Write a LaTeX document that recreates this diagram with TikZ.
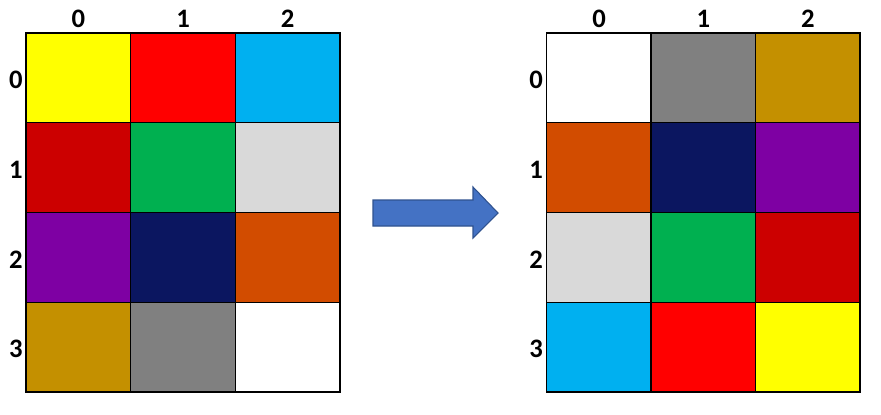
\documentclass[tikz,border=0pt]{standalone}
\usepackage{fontspec}
\setmainfont{Carlito}
\usetikzlibrary{positioning}
\definecolor{cYellow}{HTML}{FFFF00}
\definecolor{cRed}{HTML}{FF0000}
\definecolor{cSky}{HTML}{00B0F0}
\definecolor{cDarkRed}{HTML}{CC0000}
\definecolor{cGreen}{HTML}{00B050}
\definecolor{cLightGrey}{HTML}{D9D9D9}
\definecolor{cPurple}{HTML}{7E00A3}
\definecolor{cNavy}{HTML}{0B1660}
\definecolor{cOrange}{HTML}{D24C00}
\definecolor{cGold}{HTML}{C49000}
\definecolor{cGrey}{HTML}{808080}
\definecolor{arrowfill}{HTML}{4472C4}
\definecolor{arrowline}{HTML}{2F528F}
\tikzset{
  cell/.style={draw, line width=1pt, inner sep=0pt, minimum width=78.5pt, minimum height=67.3pt},
  idxlabel/.style={font=\fontsize{20}{24}\selectfont\bfseries, inner sep=0pt},
  blockarrow/.style={fill=arrowfill, draw=arrowline, line width=0.8pt, line join=miter}
}

\begin{document}
\begin{tikzpicture}[x=0.75pt, y=-0.75pt]
  \useasboundingbox (0,0) rectangle (881,414);
  % left grid
  \foreach \fc [count=\k from 0] in {cYellow,cRed,cSky,cDarkRed,cGreen,cLightGrey,cPurple,cNavy,cOrange,cGold,cGrey,white} {
    \pgfmathtruncatemacro\r{div(\k,3)}
    \pgfmathtruncatemacro\c{mod(\k,3)}
    \node[cell, fill=\fc] (L\r\c) at ({26+104.7*(\c+0.5)},{33+89.75*(\r+0.5)}) {};
  }
  % right grid (reversed)
  \foreach \fc [count=\k from 0] in {white,cGrey,cGold,cOrange,cNavy,cPurple,cLightGrey,cGreen,cDarkRed,cSky,cRed,cYellow} {
    \pgfmathtruncatemacro\r{div(\k,3)}
    \pgfmathtruncatemacro\c{mod(\k,3)}
    \node[cell, fill=\fc] (R\r\c) at ({547+104.3*(\c+0.5)},{33+89.75*(\r+0.5)}) {};
  }
  % indices
  \foreach \c in {0,1,2} {
    \node[idxlabel] (Lcol\c) at ({26+104.7*(\c+0.5)},19) {\c};
    \node[idxlabel] (Rcol\c) at ({547+104.3*(\c+0.5)},19) {\c};
  }
  \foreach \r in {0,1,2,3} {
    \node[idxlabel] (Lrow\r) at (16,{33+89.75*(\r+0.5)+2}) {\r};
    \node[idxlabel] (Rrow\r) at (536,{33+89.75*(\r+0.5)+2}) {\r};
  }
  % arrow
  \draw[blockarrow] (373,200) -- (473,200) -- (473,187) -- (498,213) -- (473,238) -- (473,226) -- (373,226) -- cycle;
\end{tikzpicture}
\end{document}
